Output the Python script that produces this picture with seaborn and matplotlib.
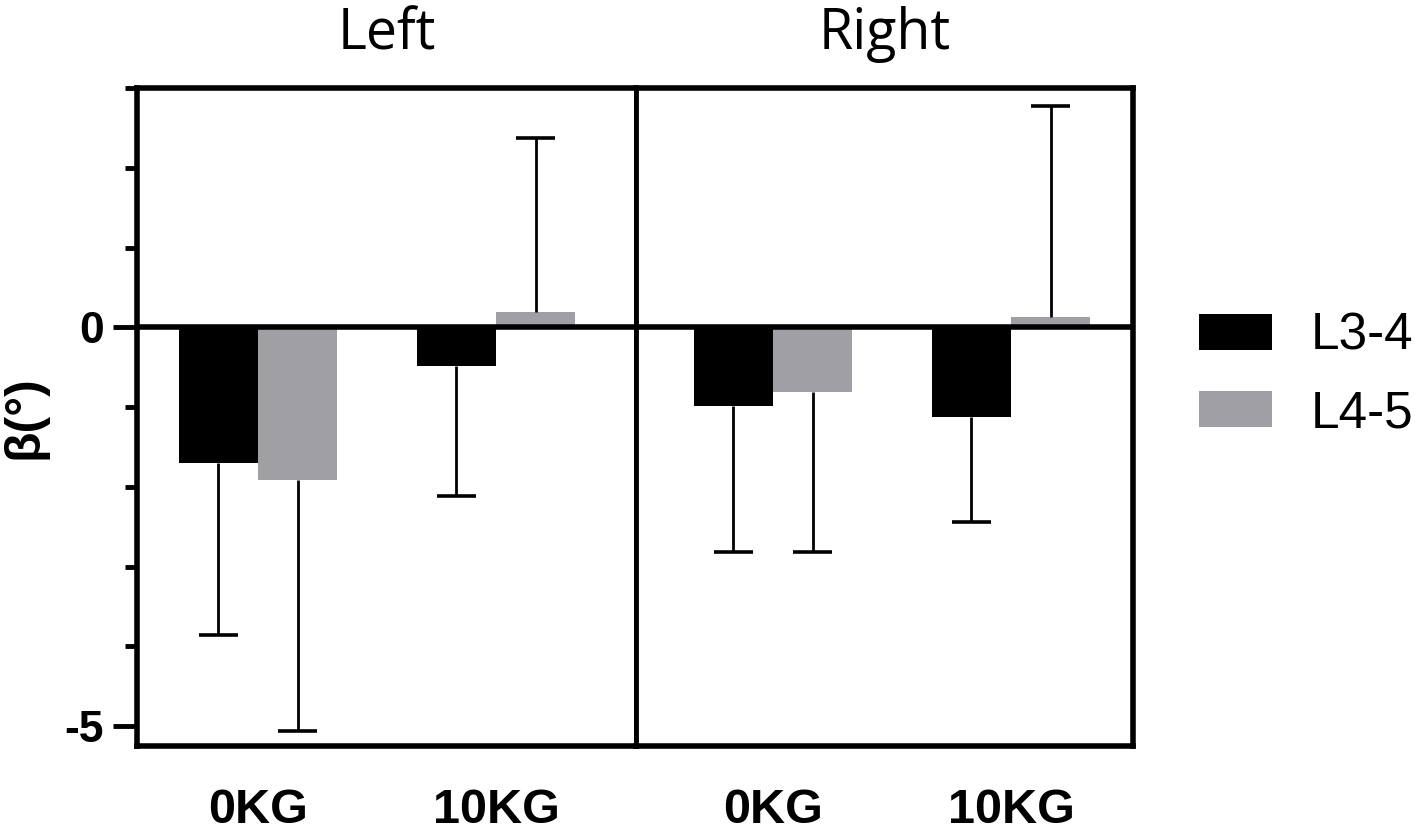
import numpy as np
import pandas as pd
import seaborn as sns
import matplotlib.pyplot as plt
from matplotlib.ticker import FixedLocator, NullFormatter

# values
panels = ['Left', 'Right']
loads = ['0KG', '10KG']
levels = ['L3-4', 'L4-5']

# order: (0KG, L3-4), (0KG, L4-5), (10KG, L3-4), (10KG, L4-5)
left_mean = [-1.70, -1.92, -0.49, 0.19]
left_sd = [2.16, 3.14, 1.63, 2.18]
right_mean = [-0.99, -0.81, -1.12, 0.13]
right_sd = [1.83, 2.01, 1.32, 2.64]

level_colors = {'L3-4': '#000000', 'L4-5': '#a09fa4'}

rows = []
for panel, means, sds in [('Left', left_mean, left_sd), ('Right', right_mean, right_sd)]:
    i = 0
    for load in loads:
        for lev in levels:
            rows.append({'side': panel, 'load': load, 'level': lev,
                         'beta': means[i], 'sd': sds[i]})
            i += 1
df = pd.DataFrame(rows)

sns.set_style('white')
plt.rcParams['font.family'] = ['Liberation Sans', 'DejaVu Sans']
plt.rcParams['text.color'] = 'black'
plt.rcParams['axes.labelcolor'] = 'black'
plt.rcParams['xtick.color'] = 'black'
plt.rcParams['ytick.color'] = 'black'

fig = plt.figure(figsize=(14.16, 8.33), dpi=100)
ax_l = fig.add_axes([137/1416, 1 - 746/833, 499/1416, 658/833])
ax_r = fig.add_axes([636/1416, 1 - 746/833, 497/1416, 658/833])

xlims = {'Left': (-0.508, 1.588), 'Right': (-0.576, 1.513)}

for ax, panel in [(ax_l, 'Left'), (ax_r, 'Right')]:
    sub = df[df['side'] == panel]
    sns.barplot(data=sub, x='load', y='beta', hue='level', order=loads,
                hue_order=levels, palette=level_colors, width=0.665,
                errorbar=None, saturation=1, linewidth=0, legend=False, ax=ax)
    # one-sided error bars, drawn away from zero
    for lev, cont in zip(levels, ax.containers):
        for load, bar in zip(loads, cont):
            r = sub[(sub['load'] == load) & (sub['level'] == lev)].iloc[0]
            xc = bar.get_x() + bar.get_width() / 2
            end = r['beta'] + np.sign(r['beta']) * r['sd']
            ax.vlines(xc, r['beta'], end, color='black', lw=2.0, zorder=1)
            ax.hlines(end, xc - 0.083, xc + 0.083, color='black', lw=2.6, zorder=1)
    ax.axhline(0, color='black', lw=4, zorder=3)
    ax.set_xlim(*xlims[panel])
    ax.set_ylim(-5.25, 3.0)
    for sp in ax.spines.values():
        sp.set_visible(True)
        sp.set_color('black')
        sp.set_linewidth(4)
    ax.set_xlabel('')
    ax.set_ylabel('')
    ax.tick_params(axis='x', length=0, pad=30, labelsize=35, labelcolor='black')
    for t in ax.get_xticklabels():
        t.set_fontweight('bold')
    ax.set_title(panel, fontsize=40, family=['Open Sans', 'DejaVu Sans'],
                 pad=28, color='black')

ax_r.spines['left'].set_linewidth(3.5)
ax_l.spines['right'].set_linewidth(3.5)

# y axis only on the left panel
ax_l.yaxis.set_major_locator(FixedLocator([-5, 0]))
ax_l.yaxis.set_minor_locator(FixedLocator([-4, -3, -2, -1, 1, 2, 3]))
ax_l.yaxis.set_minor_formatter(NullFormatter())
ax_l.set_yticklabels(['-5', '0'])
ax_l.tick_params(axis='y', which='major', left=True, length=17, width=3.5,
                 pad=7, labelsize=32, color='black', labelcolor='black')
ax_l.tick_params(axis='y', which='minor', left=True, length=9, width=3.5,
                 color='black')
for t in ax_l.get_yticklabels():
    t.set_fontweight('bold')
ax_l.set_ylabel('β(°)', fontsize=36, fontweight='bold', color='black')
ax_l.yaxis.set_label_coords(-0.18, 0.5)

ax_r.set_yticks([])
ax_r.tick_params(axis='y', left=False, which='both')

handles = [plt.Rectangle((0, 0), 1, 1, color=level_colors[lev], lw=0) for lev in levels]
fig.legend(handles, levels, loc='upper left', bbox_to_anchor=(1199/1416, 1 - 312/833),
           frameon=False, fontsize=37, handlelength=1.42, handleheight=0.7,
           handletextpad=0.75, labelspacing=0.55, borderpad=0, borderaxespad=0,
           labelcolor='black')

fig.savefig('out.png', dpi=100)
